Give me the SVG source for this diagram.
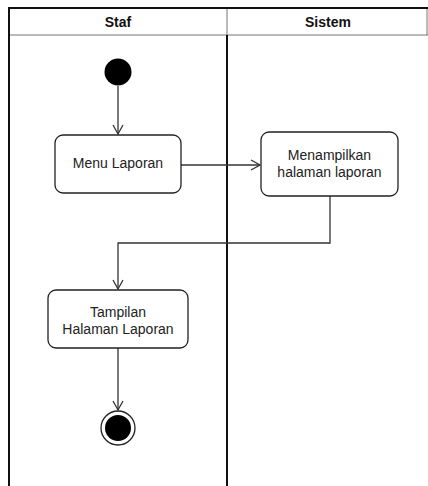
<svg xmlns="http://www.w3.org/2000/svg" width="428" height="486" viewBox="0 0 428 486">
<defs>
<style>
.lane{stroke:#111;stroke-width:2;fill:none}
.hdr{stroke:#777;stroke-width:1;fill:none}
.box{fill:#fff;stroke:#222;stroke-width:1.3}
.t{font-family:"Liberation Sans",Arial,sans-serif;font-size:14px;fill:#222;text-anchor:middle}
.h{font-family:"Liberation Sans",Arial,sans-serif;font-size:14px;font-weight:bold;fill:#111;text-anchor:middle}
.c{stroke:#333;stroke-width:1.3;fill:none}
</style>
<marker id="arr" markerWidth="12" markerHeight="12" refX="10" refY="6" orient="auto" markerUnits="userSpaceOnUse">
<path d="M1,1 L10,6 L1,11" fill="none" stroke="#333" stroke-width="1.3"/>
</marker>
</defs>
<rect width="428" height="486" fill="#fff"/>
<g id="lanes">
<line class="hdr" x1="9" y1="35" x2="428" y2="35"/>
<line class="hdr" x1="227" y1="8" x2="227" y2="35"/>
<line class="hdr" x1="427" y1="8" x2="427" y2="35"/>
<line class="lane" x1="8" y1="8" x2="428" y2="8"/>
<line class="lane" x1="9" y1="8" x2="9" y2="486"/>
<line class="lane" x1="227" y1="35" x2="227" y2="486"/>
<text class="h" x="118" y="27">Staf</text>
<text class="h" x="328" y="27">Sistem</text>
</g>
<g id="connectors">
<line class="c" x1="118" y1="86" x2="118" y2="134" marker-end="url(#arr)"/>
<line class="c" x1="181" y1="165" x2="260" y2="165" marker-end="url(#arr)"/>
<polyline class="c" points="330,196 330,243 118,243 118,289" marker-end="url(#arr)"/>
<line class="c" x1="118" y1="348" x2="118" y2="410" marker-end="url(#arr)"/>
</g>
<g id="start">
<circle cx="118" cy="72" r="13.5" fill="#000"/>
</g>
<g id="menu-laporan">
<rect class="box" x="55" y="135" width="126" height="58" rx="8"/>
<text class="t" x="118" y="168">Menu Laporan</text>
</g>
<g id="menampilkan">
<rect class="box" x="261" y="132" width="137" height="64" rx="8"/>
<text class="t" x="329.5" y="160">Menampilkan</text>
<text class="t" x="329.5" y="177">halaman laporan</text>
</g>
<g id="tampilan">
<rect class="box" x="48" y="290" width="140" height="58" rx="8"/>
<text class="t" x="118" y="317">Tampilan</text>
<text class="t" x="118" y="334">Halaman Laporan</text>
</g>
<g id="end">
<circle cx="118" cy="428" r="17" fill="#fff" stroke="#222" stroke-width="1.3"/>
<circle cx="118" cy="428" r="13" fill="#000"/>
</g>
</svg>
